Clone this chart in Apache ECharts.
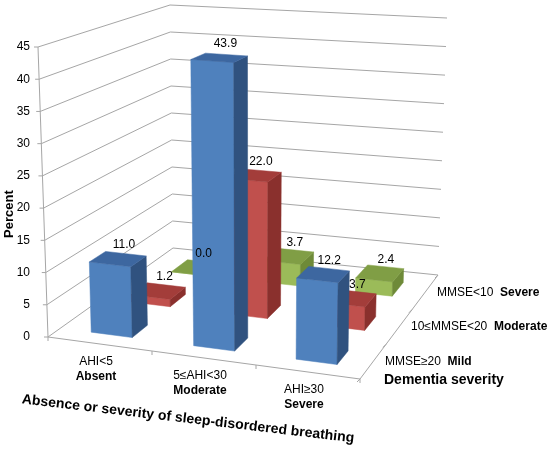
<!DOCTYPE html>
<html>
<head>
<meta charset="UTF-8">
<title>Sleep-disordered breathing by dementia severity</title>
<script src="https://cdn.jsdelivr.net/npm/echarts@6/dist/echarts.min.js"></script>
</head>
<body style="margin: 0">
<div id="container" style="width: 550px; height: 452px"></div>
<script type="text/javascript">
var ahiRanges = ['AHI<5', '5≤AHI<30', 'AHI≥30'];
var ahiNames = ['Absent', 'Moderate', 'Severe'];
var mmseRanges = ['MMSE≥20', '10≤MMSE<20', 'MMSE<10'];
var mmseNames = ['Mild', 'Moderate', 'Severe'];
// percent, one array per dementia severity (front row to back row)
var mildValues = [11.0, 43.9, 12.2];
var moderateValues = [1.2, 22.0, 3.7];
var severeValues = [0.0, 3.7, 2.4];
var percentTicks = [0, 5, 10, 15, 20, 25, 30, 35, 40, 45];

var rows = [mildValues, moderateValues, severeValues];
var rowColors = [
    {front: '#4F81BD', side: '#30527F', top: '#3D67A0'},
    {front: '#C0504D', side: '#8A302D', top: '#A33D3A'},
    {front: '#9BBB59', side: '#6E8A38', top: '#809E45'}
];
var FONT = "'Liberation Sans', Arial, sans-serif";
var GRID_COLOR = '#A6A6A6';

// screen corners of the 3D box: front/back, left/right, bottom/top
var box = {
    fbl: [48, 337], fbr: [360, 379], bbl: [173, 248], bbr: [438, 275],
    ftl: [38, 47], ftr: [365, 70], btl: [170, 5], btr: [447, 18]
};

function bilerp(p00, p10, p01, p11, a, c) {
    var w00 = (1 - a) * (1 - c), w10 = a * (1 - c), w01 = (1 - a) * c, w11 = a * c;
    return [
        w00 * p00[0] + w10 * p10[0] + w01 * p01[0] + w11 * p11[0],
        w00 * p00[1] + w10 * p10[1] + w01 * p01[1] + w11 * p11[1]
    ];
}

// u = category position, v = percent, w = depth row position
function projector(params, api) {
    var cs = params.coordSys;
    return function (u, v, w) {
        var p = api.coord([u, v]);
        var a = (p[0] - cs.x) / cs.width;
        var b = (cs.y + cs.height - p[1]) / cs.height;
        var c = w / rows.length;
        var lo = bilerp(box.fbl, box.fbr, box.bbl, box.bbr, a, c);
        var hi = bilerp(box.ftl, box.ftr, box.btl, box.btr, a, c);
        return [lo[0] + (hi[0] - lo[0]) * b, lo[1] + (hi[1] - lo[1]) * b];
    };
}

function line(points, color) {
    return {
        type: 'polyline',
        shape: {points: points},
        style: {stroke: color || GRID_COLOR, lineWidth: 1, fill: null}
    };
}

function text(x, y, str, extra) {
    var style = {
        x: x, y: y, text: str, fill: '#000',
        fontFamily: FONT, fontSize: 12,
        align: 'center', verticalAlign: 'middle'
    };
    for (var k in extra) style[k] = extra[k];
    return {type: 'text', style: style};
}

function renderFrame(params, api) {
    var P = projector(params, api);
    var v = api.value(1);
    var nCat = ahiRanges.length, nRow = rows.length;
    var kids = [];
    // left wall + back wall gridline
    kids.push(line([P(0, v, 0), P(0, v, nRow), P(nCat, v, nRow)]));
    var t = P(0, v, 0);
    kids.push(line([[t[0] - 4, t[1]], t]));

    if (params.dataIndex === 0) {
        var top = percentTicks[percentTicks.length - 1];
        kids.push(line([P(0, top, 0), P(0, 0, 0), P(nCat, 0, 0), P(nCat, 0, nRow)]));
        for (var i = 0; i <= nCat; i++) {
            var q = P(i, 0, 0);
            kids.push(line([q, [q[0], q[1] + 4]]));
        }
        for (var r = 0; r <= nRow; r++) {
            var s = P(nCat, 0, r);
            kids.push(line([s, [s[0] - 3, s[1] + 3]]));
        }
        // category labels along the front edge
        for (i = 0; i < nCat; i++) {
            var c = P(i + 0.5, 0, 0);
            kids.push(text(c[0] - 4, c[1] + 10, '{n|' + ahiRanges[i] + '}\n{b|' + ahiNames[i] + '}', {
                verticalAlign: 'top',
                rich: {
                    n: {fontFamily: FONT, fontSize: 12, lineHeight: 15, fill: '#000'},
                    b: {fontFamily: FONT, fontSize: 12, lineHeight: 15, fontWeight: 'bold', fill: '#000'}
                }
            }));
        }
        // depth labels along the right edge
        for (r = 0; r < nRow; r++) {
            var d = P(nCat, 0, r + 0.5);
            kids.push(text(d[0] + 12, d[1], '{n|' + mmseRanges[r] + '}  {b|' + mmseNames[r] + '}', {
                align: 'left',
                rich: {
                    n: {fontFamily: FONT, fontSize: 12, fill: '#000'},
                    b: {fontFamily: FONT, fontSize: 12, fontWeight: 'bold', fill: '#000'}
                }
            }));
        }
        var corner = P(nCat, 0, 0);
        kids.push(text(corner[0] + 24, corner[1] + 1, 'Dementia severity', {
            align: 'left', fontSize: 14, fontWeight: 'bold'
        }));
        var mid = P(nCat / 2, 0, 0);
        var xt = text(0, 0, 'Absence or severity of sleep-disordered breathing', {
            fontSize: 14, fontWeight: 'bold'
        });
        xt.x = mid[0] - 16;
        xt.y = mid[1] + 61;
        xt.rotation = -6.7 * Math.PI / 180;
        kids.push(xt);
        var yl = P(0, 20, 0);
        var yt = text(0, 0, 'Percent', {fontSize: 13, fontWeight: 'bold'});
        yt.x = yl[0] - 34;
        yt.y = yl[1] + 6;
        yt.rotation = Math.PI / 2;
        kids.push(yt);
    }
    return {type: 'group', children: kids};
}

function quad(points, color) {
    return {
        type: 'polygon',
        shape: {points: points},
        style: {fill: color, stroke: color, lineWidth: 0.5}
    };
}

function renderBar(params, api) {
    var P = projector(params, api);
    var i = api.value(0), v = api.value(1), r = api.value(2);
    var col = rowColors[r];
    var u0 = i + 0.3, u1 = i + 0.7, w0 = r + 0.3, w1 = r + 0.7;
    var kids = [
        quad([P(u0, 0, w0), P(u1, 0, w0), P(u1, v, w0), P(u0, v, w0)], col.front),
        quad([P(u1, 0, w0), P(u1, 0, w1), P(u1, v, w1), P(u1, v, w0)], col.side),
        quad([P(u0, v, w0), P(u1, v, w0), P(u1, v, w1), P(u0, v, w1)], col.top)
    ];
    // value labels stay above every bar
    var lp = P(i + 0.5, v, r + 0.5);
    var label = text(lp[0] + 6, lp[1] - 14, v.toFixed(1));
    label.z2 = 100;
    kids.push(label);
    return {type: 'group', children: kids};
}

// bars drawn from the back row to the front row, left to right
var barData = [];
for (var r = rows.length - 1; r >= 0; r--) {
    for (var i = 0; i < rows[r].length; i++) {
        barData.push([i, rows[r][i], r]);
    }
}

var myChart = echarts.init(document.getElementById('container'));
var option = {
    backgroundColor: '#fff',
    animation: false,
    grid: {left: 43, top: 47, width: 317, height: 290},
    xAxis: {type: 'value', min: 0, max: ahiRanges.length, show: false},
    yAxis: {
        type: 'value', min: 0, max: 45, interval: 5,
        axisLine: {show: false},
        axisTick: {show: false},
        splitLine: {show: false},
        axisLabel: {margin: 13, color: '#000', fontSize: 12, fontFamily: FONT}
    },
    series: [{
        type: 'custom',
        coordinateSystem: 'cartesian2d',
        renderItem: renderFrame,
        data: percentTicks.map(function (p) { return [0, p]; }),
        z: 1
    }, {
        type: 'custom',
        coordinateSystem: 'cartesian2d',
        renderItem: renderBar,
        encode: {x: 0, y: 1},
        data: barData,
        z: 2
    }]
};
myChart.setOption(option);
</script>
</body>
</html>
